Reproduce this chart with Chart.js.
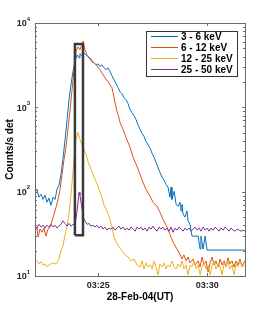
<!DOCTYPE html>
<html>
<head>
<meta charset="utf-8">
<script src="https://cdn.jsdelivr.net/npm/chart.js@4.4.1/dist/chart.umd.min.js"></script>
<style>
  body { margin: 0; background: #fff; }
  canvas { display: block; }
</style>
</head>
<body>
<canvas id="c" width="271" height="312"></canvas>
<script>
// time is minutes after 03:00 UT, counts in counts/s/det
const seriesNames = ["3 - 6 keV", "6 - 12 keV", "12 - 25 keV", "25 - 50 keV"];
const seriesColors = ["#0072BD", "#D95319", "#EDB120", "#7E2F8E"];

const blueTimes = [22.10, 22.19, 22.28, 22.38, 22.47, 22.56, 22.65, 22.74, 22.83, 22.93, 23.02, 23.11, 23.20, 23.29, 23.38, 23.48, 23.57, 23.66, 23.75, 23.84, 23.93, 24.03, 24.12, 24.16, 24.26, 24.35, 24.44, 24.53, 24.62, 24.71, 24.81, 24.90, 24.99, 25.08, 25.17, 25.27, 25.36, 25.45, 25.54, 25.63, 25.72, 25.82, 25.91, 26.00, 26.09, 26.18, 26.27, 26.37, 26.46, 26.55, 26.64, 26.73, 26.82, 26.92, 27.01, 27.10, 27.19, 27.28, 27.38, 27.47, 27.56, 27.65, 27.74, 27.83, 27.93, 28.02, 28.11, 28.20, 28.29, 28.34, 28.38, 28.48, 28.57, 28.66, 28.75, 28.80, 28.84, 28.89, 28.98, 29.07, 29.12, 29.21, 29.30, 29.58, 29.67, 29.71, 29.81, 29.90, 29.99, 31.73];
const blueCounts = [98, 107, 86, 93, 81, 91, 75, 84, 69, 86, 81, 107, 119, 160, 241, 416, 716, 1230, 1850, 2640, 3470, 4190, 3860, 4310, 4080, 4430, 4190, 3970, 3760, 3470, 3370, 3190, 3280, 3030, 3190, 2940, 2790, 2940, 2640, 2370, 2120, 1900, 1710, 1530, 1450, 1300, 1230, 1100, 939, 865, 798, 716, 625, 546, 489, 451, 394, 363, 325, 284, 255, 222, 194, 169, 148, 136, 122, 113, 86, 113, 81, 101, 71, 67, 75, 59, 71, 54, 50, 59, 45, 41, 29.7, 29.7, 20.9, 29.7, 20.9, 29.7, 20.3, 20.3];

const orangeTimes = [22.10, 22.19, 22.24, 22.33, 22.42, 22.51, 22.60, 22.70, 22.79, 22.88, 22.97, 23.06, 23.16, 23.25, 23.34, 23.43, 23.52, 23.61, 23.71, 23.80, 23.89, 23.98, 24.07, 24.16, 24.26, 24.30, 24.39, 24.49, 24.62, 24.76, 24.90, 25.08, 25.31, 25.45, 25.54, 25.63, 25.68, 25.77, 25.86, 25.91, 26.00, 26.14, 26.27, 26.37, 26.46, 26.60, 26.78, 26.92, 27.05, 27.19, 27.38, 27.51, 27.70, 27.83, 27.97, 28.11, 28.29, 28.43, 28.61, 28.75, 28.84, 28.93, 29.03, 29.12, 29.21, 29.35, 29.44, 29.58, 29.67, 29.76, 29.85, 29.94, 30.04, 30.13, 30.22, 30.31, 30.40, 30.50, 30.59, 30.68, 30.77, 30.86, 30.95, 31.04, 31.14, 31.23, 31.32, 31.41, 31.50, 31.59, 31.73];
const orangeCounts = [34, 38, 29, 36, 33, 37, 29.7, 36, 38, 45, 54, 65, 81, 107, 160, 241, 334, 546, 939, 1620, 2790, 4550, 5210, 4800, 5650, 6130, 4800, 4190, 3860, 3470, 3190, 2790, 2240, 2010, 1850, 1710, 1490, 1140, 889, 820, 660, 546, 439, 383, 334, 255, 199, 160, 129, 107, 88, 75, 67, 57, 47, 40, 31, 25.3, 20.9, 18.2, 15.9, 17.8, 15.1, 16.8, 14.3, 15.9, 13.5, 15.1, 12.8, 16.8, 13.5, 15.1, 11.2, 14.3, 16.8, 13.5, 15.1, 12.8, 15.9, 13.5, 15.1, 12.8, 16.4, 13.9, 15.1, 12.8, 15.1, 13.5, 15.9, 13.2, 15.1];

const yellowTimes = [22.10, 22.19, 22.28, 22.38, 22.47, 22.56, 22.65, 22.74, 22.83, 22.93, 23.02, 23.11, 23.20, 23.29, 23.38, 23.48, 23.57, 23.66, 23.75, 23.80, 23.89, 23.98, 24.07, 24.16, 24.26, 24.35, 24.44, 24.53, 24.62, 24.71, 24.85, 24.99, 25.13, 25.27, 25.40, 25.54, 25.63, 25.72, 25.82, 25.95, 26.09, 26.23, 26.37, 26.50, 26.64, 26.78, 26.92, 27.01, 27.10, 27.19, 27.28, 27.38, 27.47, 27.56, 27.65, 27.74, 27.83, 27.93, 28.02, 28.11, 28.20, 28.29, 28.38, 28.48, 28.57, 28.66, 28.75, 28.84, 28.93, 29.03, 29.12, 29.21, 29.30, 29.39, 29.49, 29.58, 29.67, 29.76, 29.85, 29.94, 30.04, 30.13, 30.22, 30.31, 30.40, 30.50, 30.59, 30.68, 30.77, 30.86, 30.95, 31.04, 31.14, 31.23, 31.32, 31.41, 31.50, 31.59, 31.73];
const yellowCounts = [14.7, 15.1, 13.9, 14.7, 13.5, 13.9, 12.8, 13.5, 13.9, 14.3, 13.9, 14.3, 15.9, 19.8, 22.7, 31, 39, 54, 93, 129, 241, 416, 503, 416, 353, 317, 277, 228, 199, 174, 140, 116, 91, 69, 59, 47, 38, 29, 25.3, 22.1, 19.8, 17.8, 16.8, 15.1, 15.9, 13.5, 12.8, 15.1, 12.1, 14.3, 12.8, 13.5, 12.1, 15.1, 12.8, 10.3, 13.9, 12.8, 14.3, 12.1, 13.5, 12.8, 15.1, 12.8, 12.1, 13.9, 12.8, 15.1, 12.1, 13.5, 10.3, 13.5, 12.8, 15.1, 12.1, 13.5, 10.3, 12.8, 14.3, 12.1, 13.5, 10.3, 13.2, 15.1, 12.1, 13.9, 12.8, 10.3, 14.3, 12.8, 15.1, 12.1, 13.5, 10.3, 13.9, 12.8, 15.1, 12.8, 13.5];

const purpleTimes = [22.10, 22.19, 22.28, 22.38, 22.47, 22.56, 22.65, 22.74, 22.83, 22.93, 23.02, 23.11, 23.20, 23.29, 23.38, 23.48, 23.57, 23.66, 23.75, 23.84, 23.93, 24.03, 24.12, 24.16, 24.26, 24.30, 24.39, 24.49, 24.58, 24.67, 24.76, 24.85, 24.94, 25.04, 25.13, 25.22, 25.31, 25.40, 25.49, 25.59, 25.68, 25.77, 25.86, 25.95, 26.04, 26.14, 26.23, 26.32, 26.41, 26.50, 26.60, 26.69, 26.78, 26.87, 26.96, 27.05, 27.15, 27.24, 27.33, 27.42, 27.51, 27.60, 27.70, 27.79, 27.88, 27.97, 28.06, 28.16, 28.25, 28.34, 28.43, 28.52, 28.61, 28.70, 28.80, 28.89, 28.98, 29.07, 29.16, 29.26, 29.35, 29.44, 29.53, 29.63, 29.71, 29.81, 29.90, 29.99, 30.08, 30.17, 30.27, 30.36, 30.45, 30.54, 30.63, 30.73, 30.82, 30.91, 31.00, 31.09, 31.18, 31.27, 31.37, 31.46, 31.55, 31.64, 31.73];
const purpleCounts = [39, 37, 41, 38, 40, 37, 40, 38, 41, 38, 40, 37, 39, 41, 45, 42, 39, 42, 39, 41, 40, 59, 98, 91, 62, 51, 45, 41, 42, 39, 40, 38, 40, 37, 39, 36, 38, 35, 37, 36, 38, 35, 37, 39, 36, 38, 35, 37, 35, 38, 36, 34, 38, 36, 38, 35, 37, 34, 38, 36, 39, 36, 34, 38, 36, 38, 35, 37, 34, 38, 33, 37, 35, 38, 36, 34, 37, 35, 37, 34, 36, 38, 35, 37, 34, 38, 35, 37, 34, 37, 35, 38, 36, 34, 37, 35, 38, 36, 34, 37, 35, 34, 36, 35, 34, 35, 34];

// the highlighted interval box
const boxTimes = [23.93, 23.93, 24.30, 24.30, 23.93];
const boxCounts = [30.5, 5650, 5650, 30.5, 30.5];

const xTickValues = [25, 30];
const xTickLabels = ["03:25", "03:30"];
const yDecades = [10, 100, 1000, 10000];
const yExponents = ["1", "2", "3", "4"];

const FONT = "'Liberation Sans', Arial, Helvetica, sans-serif";

function toPoints(xs, ys) {
  return xs.map((x, i) => ({ x: x, y: ys[i] }));
}

const allTimes = [blueTimes, orangeTimes, yellowTimes, purpleTimes];
const allCounts = [blueCounts, orangeCounts, yellowCounts, purpleCounts];

const datasets = seriesNames.map((name, i) => ({
  label: name,
  data: toPoints(allTimes[i], allCounts[i]),
  borderColor: seriesColors[i],
  borderWidth: 1,
  pointRadius: 0,
  tension: 0,
  fill: false,
  order: 4 - i,
}));
datasets.push({
  label: "box",
  data: toPoints(boxTimes, boxCounts),
  borderColor: "#3a3a3a",
  borderWidth: 2.5,
  pointRadius: 0,
  tension: 0,
  fill: false,
  order: 0,
});

// MATLAB-ish box with inward ticks, superscript labels and legend
const matlabAxes = {
  id: "matlabAxes",
  afterDatasetsDraw(chart) {
    const ctx = chart.ctx;
    const a = chart.chartArea;
    const xs = chart.scales.x;
    const ys = chart.scales.y;
    ctx.save();
    ctx.strokeStyle = "#6a6a6a";
    ctx.lineWidth = 1;
    ctx.strokeRect(Math.round(a.left) + 0.5, Math.round(a.top) + 0.5, Math.round(a.right - a.left), Math.round(a.bottom - a.top));

    ctx.beginPath();
    xTickValues.forEach((v) => {
      const px = Math.round(xs.getPixelForValue(v)) + 0.5;
      ctx.moveTo(px, a.bottom); ctx.lineTo(px, a.bottom - 3);
      ctx.moveTo(px, a.top); ctx.lineTo(px, a.top + 3);
    });
    yDecades.forEach((d, k) => {
      const py = Math.round(ys.getPixelForValue(d)) + 0.5;
      ctx.moveTo(a.left, py); ctx.lineTo(a.left + 3, py);
      ctx.moveTo(a.right, py); ctx.lineTo(a.right - 3, py);
      if (k < yDecades.length - 1) {
        for (let m = 2; m <= 9; m++) {
          const pm = Math.round(ys.getPixelForValue(d * m)) + 0.5;
          ctx.moveTo(a.left, pm); ctx.lineTo(a.left + 2, pm);
          ctx.moveTo(a.right, pm); ctx.lineTo(a.right - 2, pm);
        }
      }
    });
    ctx.stroke();

    // x tick labels
    ctx.fillStyle = "#262626";
    ctx.font = "bold 9px " + FONT;
    ctx.textAlign = "center";
    ctx.textBaseline = "middle";
    xTickValues.forEach((v, i) => {
      ctx.fillText(xTickLabels[i], xs.getPixelForValue(v), a.bottom + 9.5);
    });

    // y labels 10^n
    yDecades.forEach((d, k) => {
      const py = ys.getPixelForValue(d);
      ctx.font = "bold 6px " + FONT;
      const we = ctx.measureText(yExponents[k]).width;
      const xr = a.left - 5;
      ctx.textAlign = "left";
      ctx.fillText(yExponents[k], xr - we, py - 4);
      ctx.font = "bold 9px " + FONT;
      ctx.textAlign = "right";
      ctx.fillText("10", xr - we, py + 1);
    });

    // legend box
    const lx = 146.5, ly = 31.5, lw = 91, lh = 45;
    ctx.fillStyle = "#fff";
    ctx.fillRect(lx, ly, lw, lh);
    ctx.strokeStyle = "#333";
    ctx.strokeRect(lx, ly, lw, lh);
    ctx.font = "bold 10px " + FONT;
    ctx.textAlign = "left";
    ctx.textBaseline = "middle";
    seriesNames.forEach((name, i) => {
      const ry = 36.5 + i * 11;
      ctx.strokeStyle = seriesColors[i];
      ctx.beginPath();
      ctx.moveTo(151, ry); ctx.lineTo(178, ry);
      ctx.stroke();
      ctx.fillStyle = "#000";
      ctx.fillText(name, 181, ry + 0.5);
    });
    ctx.restore();
  },
};

const myChart = new Chart(document.getElementById("c"), {
  type: "line",
  data: { datasets: datasets },
  options: {
    responsive: false,
    animation: false,
    devicePixelRatio: 1,
    layout: { padding: { top: 23, right: 26, left: 0, bottom: 0 } },
    plugins: { legend: { display: false }, tooltip: { enabled: false } },
    scales: {
      x: {
        type: "linear",
        min: 22.1,
        max: 31.73,
        grid: { display: false },
        border: { display: false },
        ticks: { display: false },
        afterFit: (scale) => { scale.height = 36; },
        title: {
          display: true,
          text: "28-Feb-04(UT)",
          color: "#000",
          font: { family: FONT, size: 10, weight: "bold" },
          padding: { top: 0, bottom: 9 },
        },
      },
      y: {
        type: "logarithmic",
        min: 10,
        max: 10000,
        grid: { display: false },
        border: { display: false },
        ticks: { display: false },
        afterFit: (scale) => { scale.width = 35; },
        title: {
          display: true,
          text: "Counts/s det",
          color: "#000",
          font: { family: FONT, size: 10, weight: "bold" },
          padding: { top: 4, bottom: 0 },
        },
      },
    },
  },
  plugins: [matlabAxes],
});
</script>
</body>
</html>
